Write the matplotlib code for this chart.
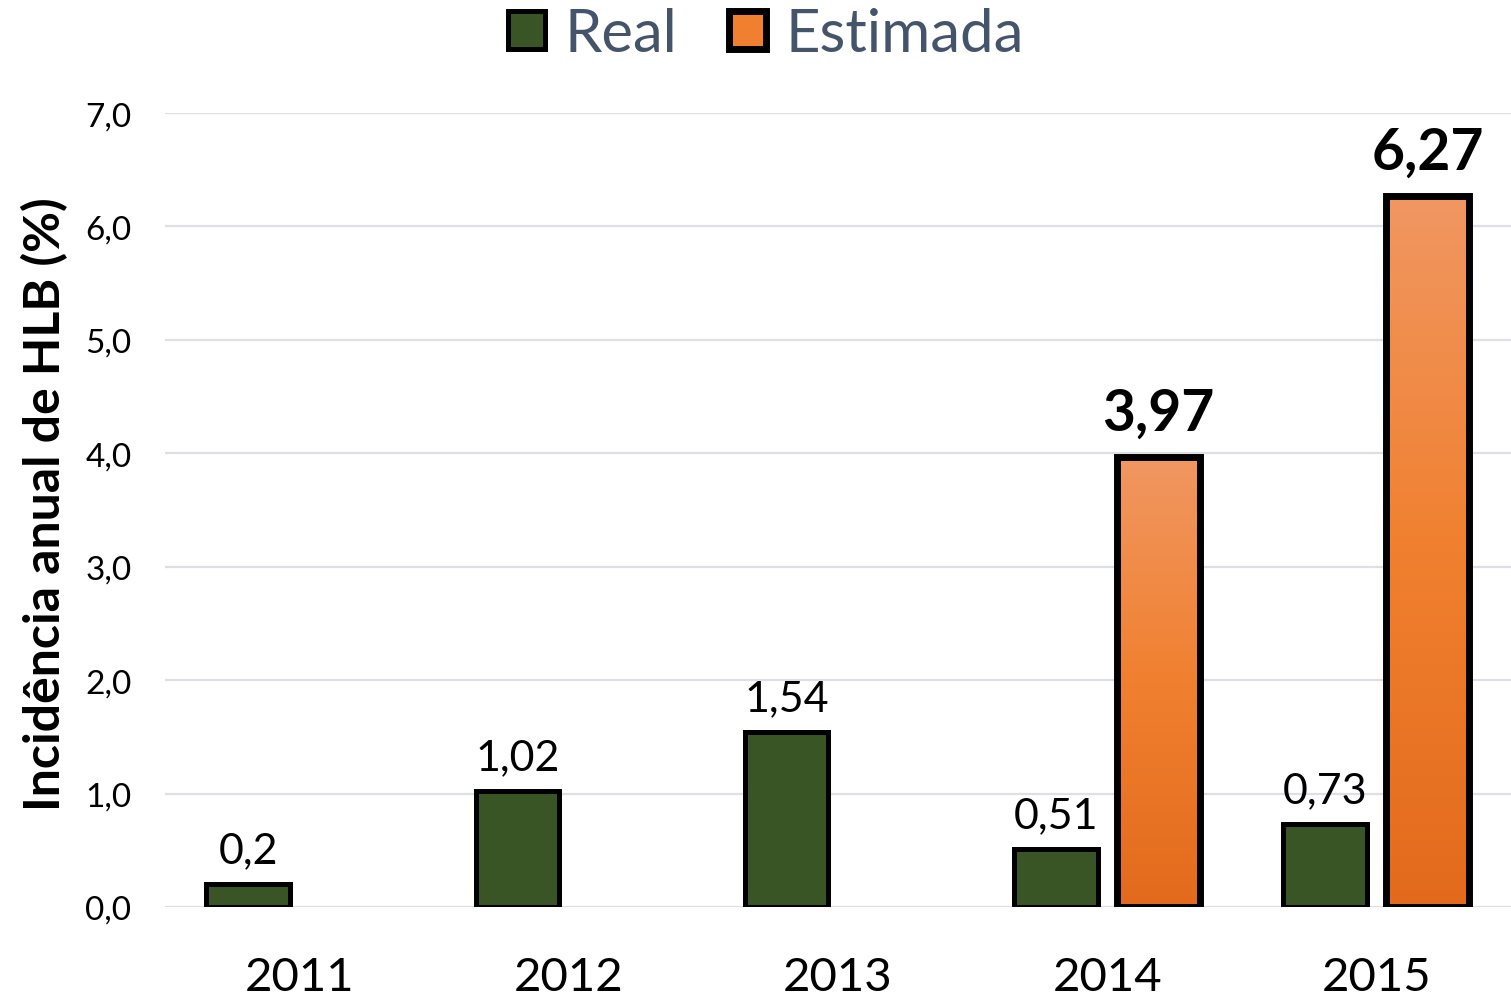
import matplotlib
matplotlib.use('Agg')
import matplotlib.pyplot as plt
import numpy as np
from matplotlib.patches import Patch
from matplotlib.colors import LinearSegmentedColormap

plt.rcParams['font.family'] = ['Lato', 'DejaVu Sans']

# data
years = ['2011', '2012', '2013', '2014', '2015']
real = [0.2, 1.02, 1.54, 0.51, 0.73]
estimada = [None, None, None, 3.97, 6.27]
real_labels = ['0,2', '1,02', '1,54', '0,51', '0,73']
est_labels = [None, None, None, '3,97', '6,27']
yticks = [0, 1, 2, 3, 4, 5, 6, 7]
ytick_labels = ['0,0', '1,0', '2,0', '3,0', '4,0', '5,0', '6,0', '7,0']

green = '#3A5525'
orange_mid = '#F0802F'
orange_cmap = LinearSegmentedColormap.from_list('org', ['#E36A1C', '#F0802F', '#F19762'])

fig = plt.figure(figsize=(15.11, 10.04), dpi=100)
ax = fig.add_axes([0.109, 0.0956, 0.891, 0.7908])

x = np.arange(len(years))
w = 0.31
off = 0.19

# real bars
bars_r = ax.bar(x - off, real, width=w, color=green, edgecolor='black', linewidth=3.6, zorder=3)
for b, lab in zip(bars_r, real_labels):
    ax.annotate(lab, (b.get_x() + b.get_width() / 2, b.get_height()), xytext=(0, 11),
                textcoords='offset points', ha='center', va='bottom', fontsize=31, color='black')

# estimated bars with vertical gradient
ex = [xi + off for xi, v in zip(x, estimada) if v is not None]
ev = [v for v in estimada if v is not None]
el = [l for l in est_labels if l is not None]
bars_e = ax.bar(ex, ev, width=w, color=orange_mid, edgecolor='black', linewidth=5, zorder=3)
grad = np.linspace(0, 1, 256).reshape(-1, 1)
for b, lab in zip(bars_e, el):
    x0 = b.get_x()
    h = b.get_height()
    im = ax.imshow(grad, cmap=orange_cmap, origin='lower', aspect='auto',
                   extent=[x0, x0 + b.get_width(), 0, h], zorder=3.5)
    im.set_clip_path(b)
    b.set_facecolor('none')
    b.set_zorder(4)
    ax.annotate(lab, (x0 + b.get_width() / 2, h), xytext=(0, 12),
                textcoords='offset points', ha='center', va='bottom', fontsize=41,
                fontweight='bold', color='black')

ax.set_xlim(-0.5, 4.5)
ax.set_ylim(0, 7)
ax.set_xticks(x)
ax.set_xticklabels(years, fontsize=34)
ax.set_yticks(yticks)
ax.set_yticklabels(ytick_labels, fontsize=24)
ax.tick_params(axis='both', length=0)
ax.tick_params(axis='x', pad=35)
ax.tick_params(axis='y', pad=24)
ax.grid(axis='y', color='#DCE0E6', linewidth=1.6, zorder=0)
ax.set_axisbelow(True)
for s in ax.spines.values():
    s.set_visible(False)

ax.set_ylabel('Incidência anual de HLB (%)', fontsize=36, fontweight='bold')
ax.yaxis.set_label_coords(-0.072, 0.509)

handles = [Patch(facecolor=green, edgecolor='black', linewidth=3.6),
           Patch(facecolor=orange_mid, edgecolor='black', linewidth=5)]
leg = fig.legend(handles, ['Real', 'Estimada'], loc='center', bbox_to_anchor=(0.507, 0.965),
                 ncol=2, frameon=False, fontsize=43, handlelength=0.62, handleheight=0.62,
                 handletextpad=0.33, columnspacing=0.87)
for t in leg.get_texts():
    t.set_color('#44546A')

fig.savefig('out.png', dpi=100)
